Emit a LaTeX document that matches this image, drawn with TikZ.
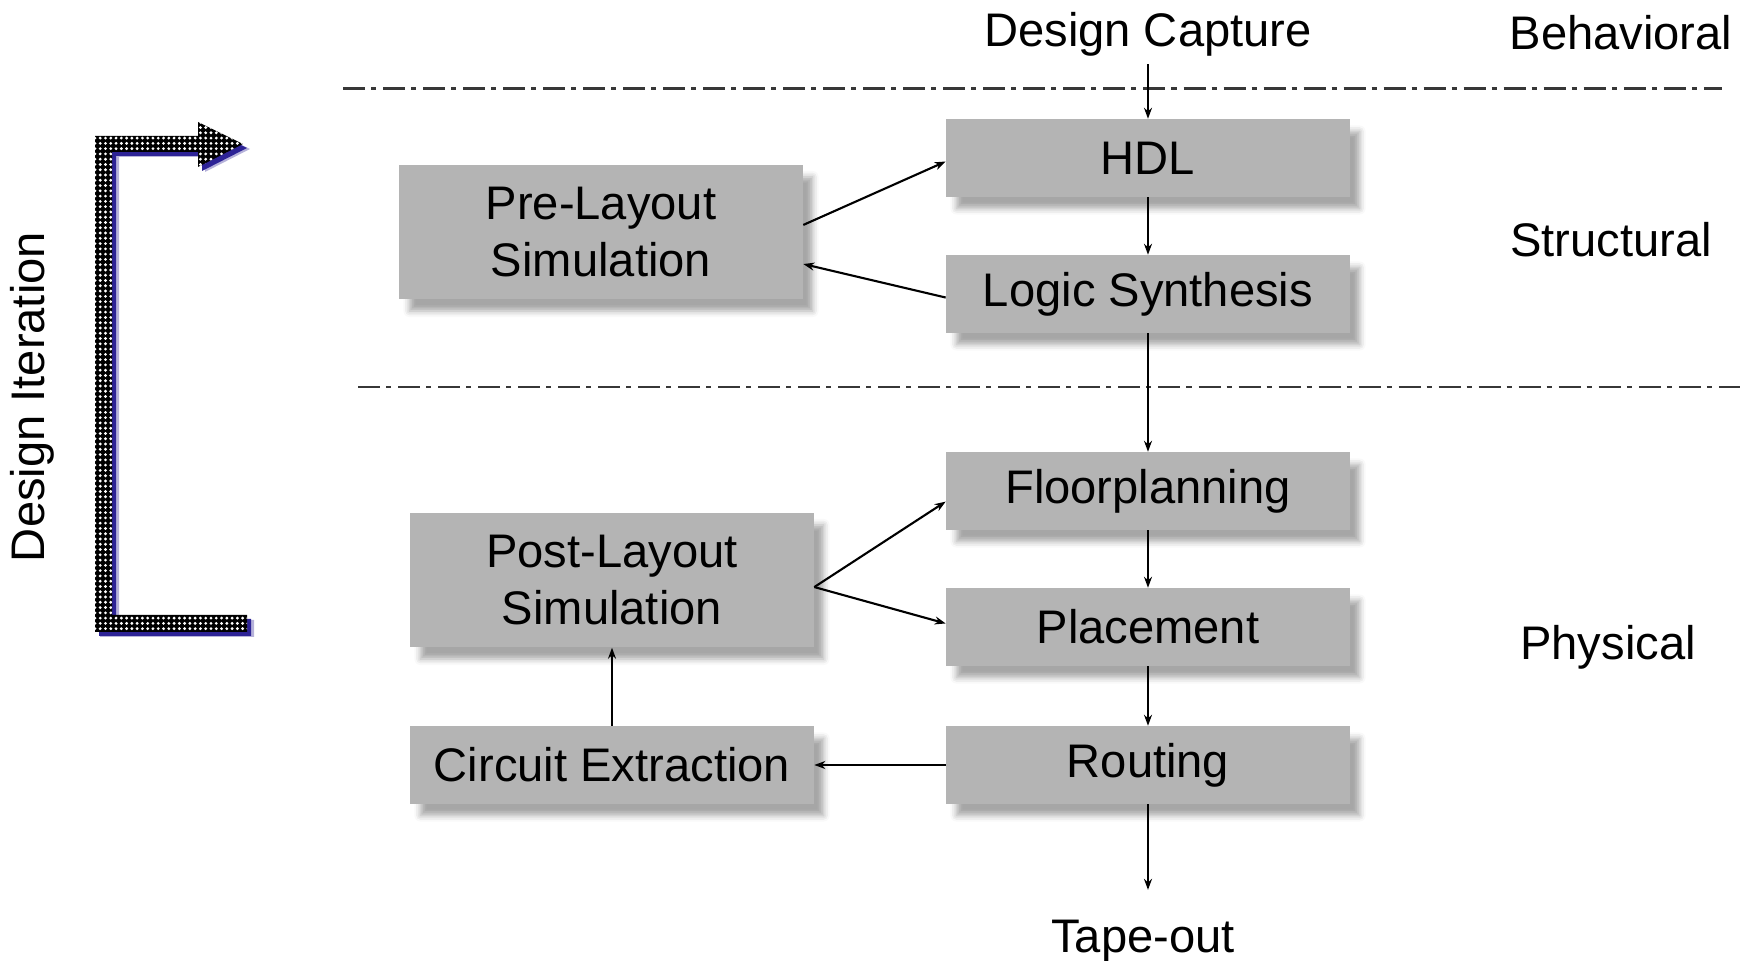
\documentclass[tikz,border=0pt]{standalone}
\usepackage{fontspec}
\setmainfont{Liberation Sans}
\usetikzlibrary{arrows.meta,shadows.blur,patterns.meta}
\definecolor{boxgray}{RGB}{180,180,180}
\definecolor{linegray}{RGB}{55,55,55}
\definecolor{iterblue}{RGB}{45,35,150}
\tikzset{
  stage/.style={fill=boxgray, minimum width=4.03cm, minimum height=0.77cm, inner sep=0pt, align=center,
    blur shadow={shadow xshift=0.1cm, shadow yshift=-0.12cm, shadow blur radius=0.06cm, shadow opacity=35}},
  bigstage/.style={stage, minimum height=1.34cm},
  flow/.style={-{Stealth[length=0.11cm,width=0.08cm]}, line width=0.6pt},
  level/.style={draw=linegray, line width=0.85pt, dash pattern=on 0.22cm off 0.06cm on 0.05cm off 0.07cm},
  tag/.style={anchor=base}
}
\begin{document}
\begin{tikzpicture}[x=0.01cm, y=-0.01cm, font=\fontsize{13.4}{16}\selectfont]
            \useasboundingbox (0,0) rectangle (1744,961);

            % level borders
            \draw[level] (343,89) -- (1722,89);
            \draw[level] (358,387) -- (1740,387);

            % iteration bracket
            \fill[iterblue, opacity=0.35] (100,637) -- (254,637) -- (254,620) -- (119,620) -- (119,157) -- (205,157) -- (205,172) -- (250,149) -- (205,127) -- (205,141) -- (100,141) -- cycle;
            \fill[iterblue] (99,636) -- (251,636) -- (251,619) -- (116,619) -- (116,156) -- (202,156) -- (202,171) -- (247,148) -- (202,126) -- (202,140) -- (99,140) -- cycle;
            \path[preaction={fill=black}, pattern={Dots[distance=1.5pt, radius=0.45pt]}, pattern color=white] (95,632) -- (247,632) -- (247,615) -- (112,615) -- (112,152) -- (198,152) -- (198,167) -- (243,144) -- (198,122) -- (198,136) -- (95,136) -- cycle;

            \node (iter) at (32,397) [rotate=90] {Design Iteration};

            % flow
            \node (cap) at (1148,47) [tag, inner sep=0.07cm] {Design Capture};
            \node (hdl) at (1148,158) [stage] {HDL};
            \node (syn) at (1148,294) [stage] {Logic Synthesis};
            \node (floor) at (1148,491) [stage] {Floorplanning};
            \node (place) at (1148,627) [stage] {Placement};
            \node (route) at (1148,765) [stage] {Routing};
            \node (tape) at (1143,953) [tag, inner sep=0.3cm] {Tape-out};

            \node (pre) at (601,232) [bigstage] {Pre-Layout\\Simulation};
            \node (post) at (612,580) [bigstage] {Post-Layout\\Simulation};
            \node (extr) at (612,765) [stage] {Circuit Extraction};

            \node (beh) at (1621,50) [tag] {Behavioral};
            \node (str) at (1611,257) [tag] {Structural};
            \node (phy) at (1608,660) [tag] {Physical};

            \draw[flow](cap) -- (hdl);
            \draw[flow](hdl) -- (syn);
            \draw[flow](syn) -- (floor);
            \draw[flow](floor) -- (place);
            \draw[flow](place) -- (route);
            \draw[flow](route) -- (route |- tape.north);
            \draw[flow](pre.2) -- (hdl.181);
            \draw[flow](syn.181) -- (pre.-9);
            \draw[flow](post.-2) -- (floor.183);
            \draw[flow](post.-2) -- (place.179);
            \draw[flow](route) -- (extr);
            \draw[flow](extr) -- (post);
        \end{tikzpicture}
\end{document}
